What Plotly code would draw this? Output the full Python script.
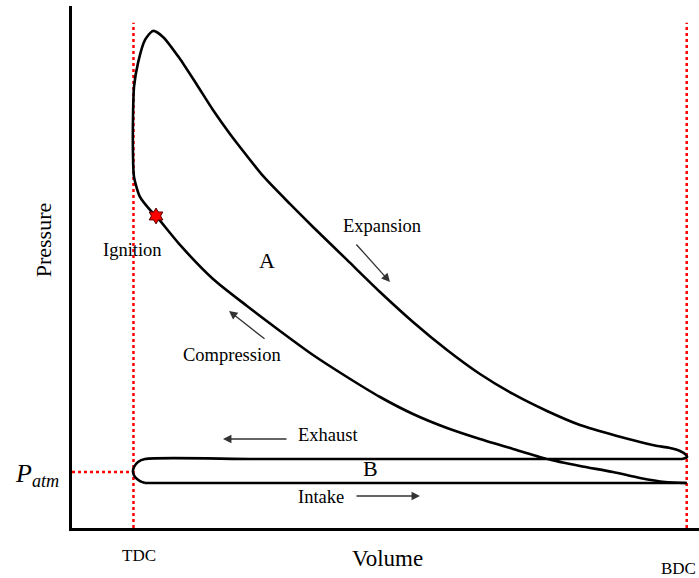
import plotly.graph_objects as go

# ---- data (volume in clearance-volume units, pressure in atm) ----
V_TDC = 1.0
V_BDC = 10.0
P_ATM = 1.0
V_MAX = 10.2
P_MAX = 9.32

# compression (BDC -> ignition)
comp_V = [10.0, 9.647, 9.24, 8.801, 8.264, 7.727, 7.174, 6.637, 6.101, 5.547, 5.011,
          4.474, 3.921, 3.384, 2.847, 2.294, 1.757, 1.367]
comp_P = [0.804, 0.821, 0.893, 1.0, 1.107, 1.232, 1.411, 1.589, 1.786, 2.036, 2.339,
          2.696, 3.089, 3.518, 3.964, 4.446, 5.054, 5.571]
# combustion (ignition -> peak)
comb_V = [1.269, 1.106, 1.009, 0.992, 0.992, 1.009, 1.074, 1.188, 1.318]
comb_P = [5.679, 5.911, 6.268, 6.696, 7.286, 7.875, 8.304, 8.714, 8.875]
# expansion (peak -> BDC)
exp_V = [1.48, 1.757, 2.034, 2.294, 2.57, 2.847, 3.107, 3.546, 3.921, 4.474, 5.011,
         5.547, 6.101, 6.637, 7.174, 7.727, 8.264, 8.866, 9.24, 9.484, 9.728, 9.891,
         9.989, 10.005]
exp_P = [8.768, 8.375, 7.911, 7.464, 7.036, 6.643, 6.286, 5.786, 5.375, 4.786, 4.214,
         3.679, 3.179, 2.75, 2.393, 2.089, 1.839, 1.643, 1.536, 1.473, 1.429, 1.375,
         1.304, 1.268]
# exhaust (BDC -> TDC) and turnaround at TDC
exh_V = [9.94, 9.728, 9.24, 6.0, 3.0, 1.188, 1.074, 1.009, 0.992, 1.025, 1.106, 1.188]
exh_P = [1.238, 1.232, 1.232, 1.232, 1.232, 1.232, 1.179, 1.089, 1.0, 0.911, 0.839, 0.804]
# intake stroke
intake_V = [1.188, 4.0, 7.0, 10.0]
intake_P = [0.804, 0.804, 0.804, 0.804]

ignition_V = [1.367]
ignition_P = [5.571]

cycle_V = comp_V + comb_V + exp_V + exh_V
cycle_P = comp_P + comb_P + exp_P + exh_P

FONT = "Liberation Serif"

fig = go.Figure()

# reference dotted lines
red = dict(color="#ff0000", width=2.5, dash="3px,3px")
fig.add_trace(go.Scatter(x=[V_TDC, V_TDC], y=[0, 9.02], mode="lines", line=red,
                         hoverinfo="skip"))
fig.add_trace(go.Scatter(x=[V_BDC, V_BDC], y=[0, 9.02], mode="lines", line=red,
                         hoverinfo="skip"))
fig.add_trace(go.Scatter(x=[0, V_TDC], y=[P_ATM, P_ATM], mode="lines", line=red,
                         hoverinfo="skip"))

# cycle
fig.add_trace(go.Scatter(x=cycle_V, y=cycle_P, mode="lines",
                         line=dict(color="black", width=2.6, shape="spline", smoothing=0.7)))
fig.add_trace(go.Scatter(x=intake_V, y=intake_P, mode="lines",
                         line=dict(color="black", width=2.6)))

fig.add_trace(go.Scatter(x=ignition_V, y=ignition_P, mode="markers",
                         marker=dict(symbol="hexagram", size=12, color="#ff0000",
                                     line=dict(color="#550000", width=1))))

def txt(x, y, s, size=18, xref="x", yref="y", **kw):
    fig.add_annotation(x=x, y=y, xref=xref, yref=yref, text=s, showarrow=False,
                       font=dict(family=FONT, size=size, color="black"),
                       xanchor="center", yanchor="middle", **kw)

def arrow(x0, y0, x1, y1):
    fig.add_annotation(x=x1, y=y1, ax=x0, ay=y0, xref="x", yref="y", axref="x", ayref="y",
                       text="", showarrow=True, arrowhead=2, arrowsize=1.3,
                       arrowwidth=1.3, arrowcolor="#333333")

txt(0.99, 4.96, "Ignition", 18.5)
txt(3.172, 4.77, "A", 22)
txt(4.864, 1.07, "B", 22)
txt(5.043, 5.39, "Expansion", 18.5)
txt(2.603, 3.09, "Compression", 18.5)
txt(4.165, 1.66, "Exhaust", 18.5)
txt(4.05, 0.554, "Intake", 18.5)

arrow(3.514, 1.589, 2.456, 1.589)
arrow(4.604, 0.571, 5.661, 0.571)
arrow(4.604, 5.089, 5.173, 4.393)
arrow(3.156, 3.357, 2.554, 3.875)

txt(5.14, -0.0575, "Volume", 23, yref="paper")
txt(1.09, -0.052, "TDC", 17, yref="paper")
txt(9.86, -0.077, "BDC", 17, yref="paper")
txt(-0.046, 5.14, "Pressure", 22, xref="paper", textangle=-90)
txt(-0.056, 0.95, "<i>P</i><sub><i>atm</i></sub>", 26, xref="paper")

fig.update_layout(
    width=699, height=578,
    margin=dict(l=72, r=0, t=6, b=50),
    paper_bgcolor="white", plot_bgcolor="white",
    showlegend=False,
    xaxis=dict(range=[0, V_MAX], showgrid=False, zeroline=False, showticklabels=False,
               ticks="", showline=True, linecolor="black", linewidth=3, fixedrange=True),
    yaxis=dict(range=[0, P_MAX], showgrid=False, zeroline=False, showticklabels=False,
               ticks="", showline=True, linecolor="black", linewidth=3, fixedrange=True),
)

fig.write_html("out.html")
